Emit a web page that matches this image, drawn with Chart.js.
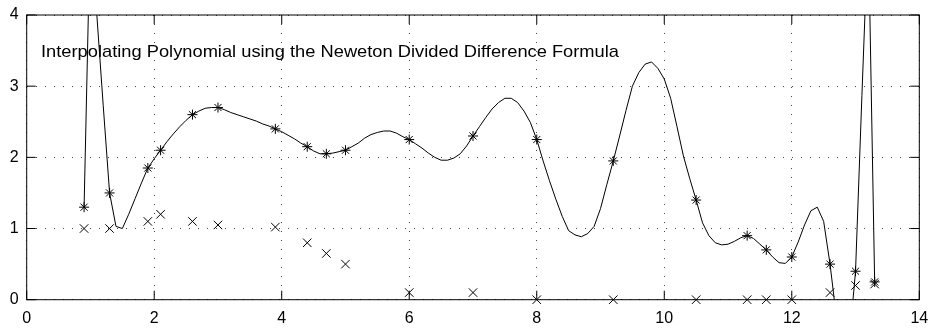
<!DOCTYPE html>
<html><head><meta charset="utf-8">
<script src="https://cdn.jsdelivr.net/npm/chart.js@4/dist/chart.umd.min.js"></script>
<style>html,body{margin:0;padding:0;background:#fff}#wrap{width:930px;height:329px}</style>
</head><body><div id="wrap"><canvas id="c" width="930" height="329"></canvas></div>
<script>
const titleText = "Interpolating Polynomial using the Neweton Divided Difference Formula";
const xTicks = [0, 2, 4, 6, 8, 10, 12, 14];
const yTicks = [0, 1, 2, 3, 4];

// data nodes
const nodeX  = [0.9, 1.3, 1.9, 2.1, 2.6, 3.0, 3.9, 4.4, 4.7, 5.0, 6.0, 7.0, 8.0, 9.2, 10.5, 11.3, 11.6, 12.0, 12.6, 13.0, 13.3];
const starY  = [1.3, 1.5, 1.85, 2.1, 2.6, 2.7, 2.4, 2.15, 2.05, 2.1, 2.25, 2.3, 2.25, 1.95, 1.4, 0.9, 0.7, 0.6, 0.5, 0.4, 0.25];
const crossY = [1.0, 1.0, 1.1, 1.2, 1.1, 1.05, 1.02, 0.8, 0.65, 0.5, 0.1, 0.1, 0, 0, 0, 0, 0, 0, 0.1, 0.2, 0.22];

// interpolating polynomial
const curveX = [0.9,1.0,1.1,1.2,1.3,1.4,1.5,1.6,1.7,1.8,1.9,2.0,2.1,2.2,2.3,2.4,2.5,2.6,2.7,2.8,2.9,
  3.0,3.1,3.2,3.3,3.4,3.5,3.6,3.7,3.8,3.9,4.0,4.1,4.2,4.3,4.4,4.5,4.6,4.7,4.8,4.9,
  5.0,5.1,5.2,5.3,5.4,5.5,5.6,5.7,5.8,5.9,6.0,6.1,6.2,6.3,6.4,6.5,6.6,6.7,6.8,6.9,
  7.0,7.1,7.2,7.3,7.4,7.5,7.6,7.7,7.8,7.9,8.0,8.1,8.2,8.3,8.4,8.5,8.6,8.7,8.8,8.9,
  9.0,9.1,9.2,9.3,9.4,9.5,9.6,9.7,9.8,9.9,10.0,10.1,10.2,10.3,10.4,10.5,10.6,10.7,10.8,10.9,
  11.0,11.1,11.2,11.3,11.4,11.5,11.6,11.7,11.8,11.9,12.0,12.1,12.2,12.3,12.4,12.5,12.6,12.7,12.8,12.9,
  13.0,13.1,13.2,13.3];
const curveY = [1.30,5.35,4.00,2.73,1.50,1.03,1.00,1.20,1.42,1.64,1.85,1.98,2.10,2.22,2.33,2.43,2.52,2.60,2.65,2.69,2.70,
  2.70,2.67,2.63,2.60,2.57,2.54,2.51,2.47,2.44,2.40,2.36,2.31,2.26,2.20,2.15,2.09,2.05,2.05,2.06,2.08,
  2.10,2.15,2.20,2.27,2.32,2.35,2.37,2.37,2.34,2.29,2.25,2.19,2.13,2.06,2.00,1.96,1.96,1.99,2.05,2.16,
  2.30,2.43,2.56,2.68,2.77,2.83,2.83,2.77,2.65,2.49,2.25,1.95,1.67,1.41,1.17,0.97,0.91,0.885,0.93,1.03,
  1.28,1.62,1.95,2.30,2.66,3.00,3.19,3.31,3.34,3.25,3.10,2.83,2.43,2.02,1.70,1.40,1.08,0.90,0.80,0.77,
  0.78,0.82,0.87,0.90,0.86,0.78,0.70,0.60,0.52,0.51,0.60,0.81,1.05,1.25,1.30,1.10,0.50,-0.25,-1.50,-0.60,
  0.40,2.87,5.25,0.25];

const pts = (xs, ys) => xs.map((v, i) => ({x: v, y: ys[i]}));
const FONT = '"Liberation Sans", Arial, Helvetica, sans-serif';

const boxPlugin = {
  id: 'box',
  afterDatasetsDraw(chart) {
    const {ctx, chartArea: a, scales: {x, y}} = chart;
    ctx.save();
    ctx.strokeStyle = '#000';
    ctx.lineWidth = 1;
    ctx.strokeRect(a.left, a.top, a.right - a.left, a.bottom - a.top);
    const L = 9;
    ctx.beginPath();
    xTicks.forEach(v => {
      const px = x.getPixelForValue(v);
      ctx.moveTo(px, a.bottom); ctx.lineTo(px, a.bottom - L);
      ctx.moveTo(px, a.top); ctx.lineTo(px, a.top + L);
    });
    yTicks.forEach(v => {
      const py = y.getPixelForValue(v);
      ctx.moveTo(a.left, py); ctx.lineTo(a.left + L, py);
      ctx.moveTo(a.right, py); ctx.lineTo(a.right - L, py);
    });
    ctx.stroke();
    ctx.font = '17px ' + FONT;
    ctx.fillStyle = '#000';
    ctx.textBaseline = 'alphabetic';
    ctx.textAlign = 'left';
    const w = ctx.measureText(titleText).width;
    ctx.translate(41, 56.5);
    ctx.scale(578 / w, 1);
    ctx.fillText(titleText, 0, 0);
    ctx.restore();
  }
};

new Chart(document.getElementById('c'), {
  type: 'line',
  data: {
    datasets: [
      {
        label: 'polynomial', data: pts(curveX, curveY),
        borderColor: '#000', borderWidth: 1, pointRadius: 0, tension: 0, fill: false, clip: 0
      },
      {
        label: 'nodes', data: pts(nodeX, starY), showLine: false,
        pointStyle: 'star', pointRadius: 5, borderColor: '#000', backgroundColor: '#000',
        pointBorderWidth: 1, clip: false
      },
      {
        label: 'values', data: pts(nodeX, crossY), showLine: false,
        pointStyle: 'crossRot', pointRadius: 6, borderColor: '#000', backgroundColor: '#000',
        pointBorderWidth: 1, clip: false
      }
    ]
  },
  options: {
    responsive: false,
    animation: false,
    events: [],
    layout: { padding: { top: 15, right: 10.7, left: 0, bottom: 0 } },
    plugins: { legend: { display: false }, tooltip: { enabled: false }, title: { display: false } },
    scales: {
      x: {
        type: 'linear', min: 0, max: 14,
        afterFit: s => { s.height = 29.3; s.paddingLeft = 0; s.paddingRight = 0; },
        ticks: { stepSize: 2, color: '#000', padding: 9, font: { family: FONT, size: 16 } },
        grid: { color: '#444', lineWidth: 1, drawTicks: false, borderDash: [1, 8] },
        border: { display: false, dash: [1, 8] }
      },
      y: {
        type: 'linear', min: 0, max: 4,
        afterFit: s => { s.width = 26.7; s.paddingTop = 0; s.paddingBottom = 0; },
        ticks: { stepSize: 1, color: '#000', padding: 8, font: { family: FONT, size: 16 } },
        grid: { color: '#444', lineWidth: 1, drawTicks: false, borderDash: [1, 8] },
        border: { display: false, dash: [1, 8] }
      }
    }
  },
  plugins: [boxPlugin]
});
</script>
</body></html>
